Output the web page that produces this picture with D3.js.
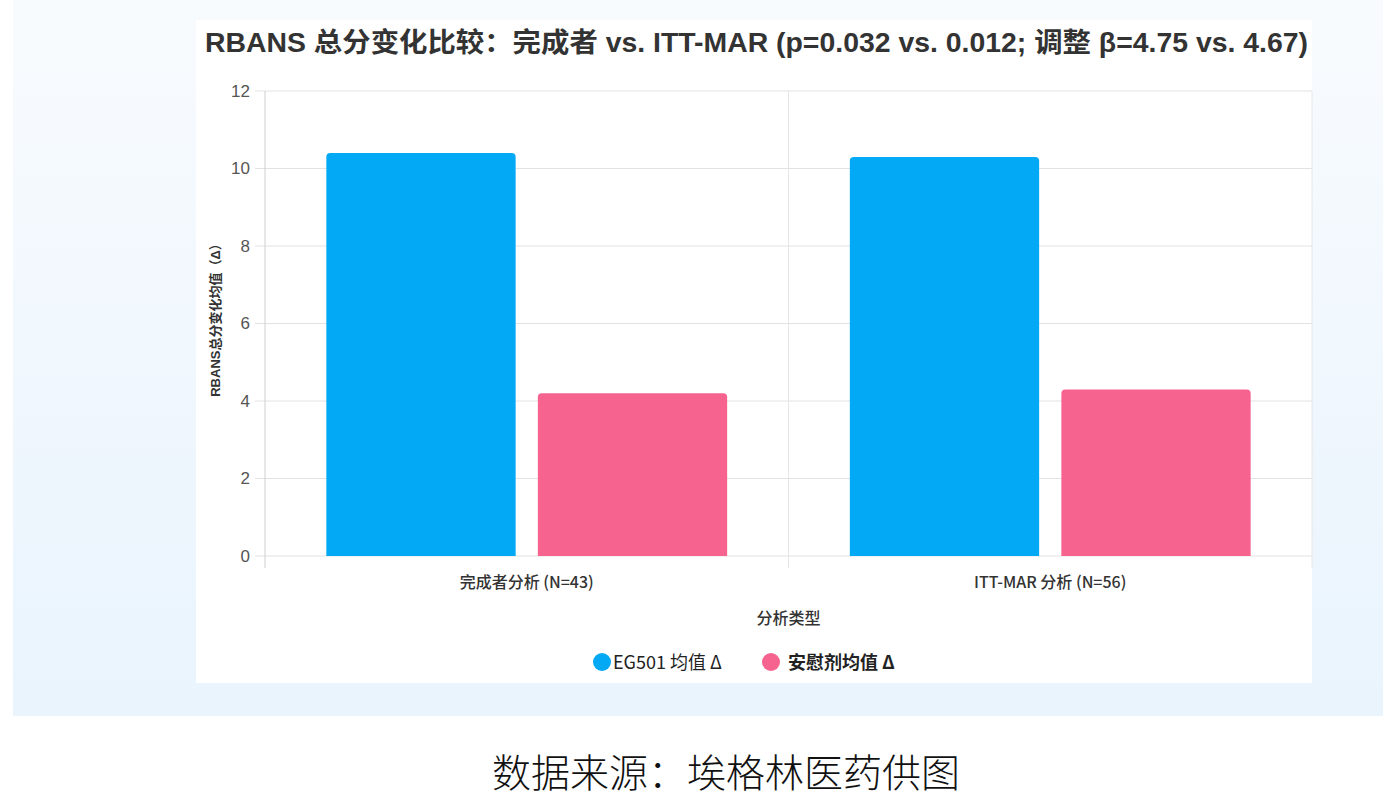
<!DOCTYPE html>
<html>
<head>
<meta charset="utf-8">
<script src="https://cdn.jsdelivr.net/npm/d3@7/dist/d3.min.js"></script>
<style>
  body { margin: 0; background: #fff; font-family: "Noto Sans CJK SC", "Liberation Sans", sans-serif; }
</style>
</head>
<body>
<div id="chart"></div>
<script>
/////////////////////////////////////
///      DATA
/////////////////////////////////////
var categories = ["完成者分析 (N=43)", "ITT-MAR 分析 (N=56)"];
var seriesNames = ["EG501 均值 Δ", "安慰剂均值 Δ"];
var eg501Values = [10.4, 10.3];
var placeboValues = [4.2, 4.3];
var yTicks = [0, 2, 4, 6, 8, 10, 12];
var colors = ["#03a9f4", "#f7638f"];

var W = 1383, H = 801;
var svg = d3.select("#chart").append("svg")
  .attr("width", W)
  .attr("height", H);

// outer pale blue panel
var defs = svg.append("defs");
var grad = defs.append("linearGradient").attr("id", "bg").attr("x1", 0).attr("y1", 0).attr("x2", 0).attr("y2", 1);
grad.append("stop").attr("offset", "0%").attr("stop-color", "#f8fbfe");
grad.append("stop").attr("offset", "100%").attr("stop-color", "#e9f4fd");
svg.append("rect").attr("x", 13).attr("y", 0).attr("width", W - 13).attr("height", 716).attr("fill", "url(#bg)");

// white card
svg.append("rect").attr("x", 196).attr("y", 20).attr("width", 1116).attr("height", 663).attr("fill", "#ffffff");

var margin = {left: 265, right: 1312, top: 91, bottom: 556};

var x0 = d3.scaleBand()
  .domain(categories)
  .range([margin.left, margin.right])
  .paddingInner(0)
  .paddingOuter(0);

var x1 = d3.scaleBand()
  .domain([0, 1])
  .range([0, x0.bandwidth()])
  .paddingInner(0.105)
  .paddingOuter(0.29);

var y = d3.scaleLinear()
  .domain([0, 12])
  .range([margin.bottom, margin.top]);

// grid lines
svg.append("g").selectAll("line")
  .data(yTicks)
  .enter().append("line")
  .attr("x1", margin.left - 10)
  .attr("x2", margin.right)
  .attr("y1", function(d){ return y(d); })
  .attr("y2", function(d){ return y(d); })
  .attr("stroke", "#e2e2e2")
  .attr("stroke-width", 1);

// vertical category separators
var seps = [margin.left, x0(categories[1]), margin.right];
svg.append("g").selectAll("line")
  .data(seps)
  .enter().append("line")
  .attr("x1", function(d){ return d; })
  .attr("x2", function(d){ return d; })
  .attr("y1", margin.top)
  .attr("y2", margin.bottom + 12)
  .attr("stroke", function(d, i){ return i == 0 ? "#cfcfcf" : "#e6e6e6"; })
  .attr("stroke-width", 1);

// y axis
var yAxis = d3.axisLeft(y).tickValues(yTicks).tickSize(0).tickPadding(15);
var gy = svg.append("g").attr("transform", "translate(" + margin.left + ",0)").call(yAxis);
gy.select(".domain").remove();
gy.selectAll("text")
  .attr("fill", "#555")
  .style("font-size", "17px")
  .style("font-family", "Liberation Sans, sans-serif");

// x axis labels
var xAxis = d3.axisBottom(x0).tickSize(0).tickPadding(21);
var gx = svg.append("g").attr("transform", "translate(0," + margin.bottom + ")").call(xAxis);
gx.select(".domain").remove();
gx.selectAll("text")
  .attr("fill", "#333")
  .style("font-size", "16px")
  .style("font-weight", "500")
  .style("font-family", "Noto Sans CJK SC, sans-serif");

// bars
var rows = categories.map(function(c, i){ return {cat: c, vals: [eg501Values[i], placeboValues[i]]}; });
var groups = svg.append("g").selectAll("g")
  .data(rows)
  .enter().append("g")
  .attr("transform", function(d){ return "translate(" + x0(d.cat) + ",0)"; });

groups.selectAll("path")
  .data(function(d){ return d.vals.map(function(v, j){ return {v: v, j: j}; }); })
  .enter().append("path")
  .attr("d", function(d){
    var bx = x1(d.j), bw = x1.bandwidth(), top = y(d.v), bot = y(0), r = 4;
    return "M" + bx + "," + bot + "V" + (top + r) + "Q" + bx + "," + top + " " + (bx + r) + "," + top +
      "H" + (bx + bw - r) + "Q" + (bx + bw) + "," + top + " " + (bx + bw) + "," + (top + r) + "V" + bot + "Z";
  })
  .attr("fill", function(d){ return colors[d.j]; });

// titles
svg.append("text")
  .attr("x", 205).attr("y", 52)
  .attr("textLength", 1103)
  .attr("lengthAdjust", "spacingAndGlyphs")
  .attr("fill", "#333")
  .style("font-size", "27px")
  .style("font-weight", "bold")
  .style("font-family", "Liberation Sans, Noto Sans CJK SC, sans-serif")
  .text("RBANS 总分变化比较：完成者 vs. ITT-MAR (p=0.032 vs. 0.012; 调整 β=4.75 vs. 4.67)");

svg.append("text")
  .attr("transform", "translate(220,317) rotate(-90)")
  .attr("text-anchor", "middle")
  .attr("fill", "#333")
  .style("font-size", "13px")
  .style("font-weight", "bold")
  .style("font-family", "Liberation Sans, Noto Sans CJK SC, sans-serif")
  .text("RBANS总分变化均值（Δ）");

svg.append("text")
  .attr("x", x0(categories[1])).attr("y", 624)
  .attr("text-anchor", "middle")
  .attr("fill", "#333")
  .style("font-size", "16px")
  .style("font-weight", "500")
  .style("font-family", "Noto Sans CJK SC, sans-serif")
  .text("分析类型");

// legend
var legendX = [602, 771];
var lg = svg.append("g").selectAll("g")
  .data(seriesNames)
  .enter().append("g")
  .attr("transform", function(d, i){ return "translate(" + legendX[i] + ",662)"; });
lg.append("circle").attr("r", 9).attr("fill", function(d, i){ return colors[i]; });
lg.append("text")
  .attr("x", function(d, i){ return i == 0 ? 11 : 17; }).attr("y", 7)
  .attr("fill", "#222")
  .style("font-size", "18px")
  .style("font-weight", function(d, i){ return i == 1 ? "bold" : "normal"; })
  .style("font-family", "Noto Sans CJK SC, sans-serif")
  .text(function(d){ return d; });

// source caption
svg.append("text")
  .attr("x", 726).attr("y", 787)
  .attr("text-anchor", "middle")
  .attr("fill", "#111")
  .style("font-size", "39px")
  .style("font-weight", "300")
  .style("font-family", "Noto Sans CJK SC, sans-serif")
  .text("数据来源：埃格林医药供图");
</script>
</body>
</html>
